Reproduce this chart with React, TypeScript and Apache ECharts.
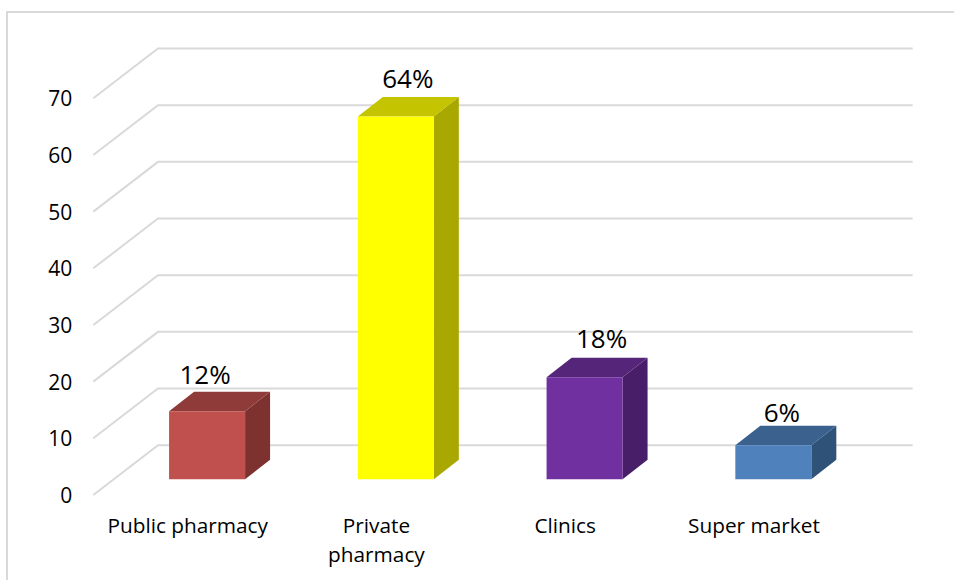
import React, { useEffect, useRef } from "react";
import * as echarts from "echarts";

const categories = ["Public pharmacy", "Private\npharmacy", "Clinics", "Super market"];
const shares = [12, 64, 18, 6];
const faceColors = ["#C0504D", "#FFFF00", "#7030A0", "#4F81BD"];
const topColors = ["#8F3B39", "#C4C400", "#552579", "#3B618E"];
const sideColors = ["#7D3230", "#A8A800", "#471E67", "#2F5278"];
const axisTicks = [0, 10, 20, 30, 40, 50, 60, 70];

// Layout of the pseudo-3D box, in pixels
const FONT = "'Open Sans', sans-serif";
const FRONT_LEFT = 93.3;
const FRONT_TOP = 98.3;
const PLOT_W = 755;
const PLOT_H = 396.7;
const WALL_DX = 64.7;
const WALL_DY = -49.8;
const BAR_W = 76;
const BAR_DX = 25;
const BAR_DY = -19.5;
const BAR_PLANE_DX = 19.4;
const BAR_PLANE_DY = -15.7;
const labelNudgeX = [-14.5, -0.5, 4.5, -4];
const labelNudgeY = [-4, -5, -6, 0];

export default function App() {
  const ref = useRef<HTMLDivElement>(null);

  useEffect(() => {
    const chart = echarts.init(ref.current!, undefined, { renderer: "svg" });

    const wallLines = (params: any, api: any) => {
      const p = api.coord([0, api.value(0)]);
      const x0 = FRONT_LEFT;
      return {
        type: "polyline",
        silent: true,
        shape: {
          points: [
            [x0, p[1]],
            [x0 + WALL_DX, p[1] + WALL_DY],
            [x0 + WALL_DX + PLOT_W - 0.3, p[1] + WALL_DY],
          ],
        },
        style: { stroke: "#D9D9D9", lineWidth: 2, fill: "none" },
      };
    };

    const box = (params: any, api: any) => {
      const i = api.value(0);
      const v = api.value(1);
      const top = api.coord([i, v]);
      const base = api.coord([i, 0]);
      const xl = top[0] - BAR_W / 2 + BAR_PLANE_DX;
      const xr = xl + BAR_W;
      const yt = top[1] + BAR_PLANE_DY;
      const yb = base[1] + BAR_PLANE_DY;
      return {
        type: "group",
        children: [
          {
            type: "polygon",
            shape: { points: [[xr, yt], [xr + BAR_DX, yt + BAR_DY], [xr + BAR_DX, yb + BAR_DY], [xr, yb]] },
            style: { fill: sideColors[i] },
          },
          {
            type: "polygon",
            shape: { points: [[xl, yt], [xl + BAR_DX, yt + BAR_DY], [xr + BAR_DX, yt + BAR_DY], [xr, yt]] },
            style: { fill: topColors[i] },
          },
          { type: "rect", shape: { x: xl, y: yt, width: BAR_W, height: yb - yt }, style: { fill: faceColors[i] } },
          {
            type: "text",
            x: (xl + xr) / 2 + BAR_DX / 2 + labelNudgeX[i],
            y: yt + BAR_DY - 1 + labelNudgeY[i],
            style: {
              text: `${v}%`,
              fill: "#000000",
              font: `26px ${FONT}`,
              align: "center",
              verticalAlign: "bottom",
            },
          },
        ],
      };
    };

    chart.setOption({
      animation: false,
      backgroundColor: "#FFFFFF",
      graphic: [
        {
          type: "polyline",
          silent: true,
          shape: { points: [[7, 580], [7, 12], [954, 12]] },
          style: { stroke: "#D9D9D9", lineWidth: 2, fill: "none" },
        },
      ],
      grid: { left: FRONT_LEFT, top: FRONT_TOP, width: PLOT_W, height: PLOT_H },
      xAxis: {
        type: "category",
        data: categories,
        axisLine: { show: false },
        axisTick: { show: false },
        axisLabel: {
          interval: 0,
          margin: 15,
          color: "#000000",
          fontFamily: FONT,
          fontSize: 20.8,
          lineHeight: 29,
        },
      },
      yAxis: {
        type: "value",
        min: 0,
        max: 70,
        interval: 10,
        splitLine: { show: false },
        axisLine: { show: false },
        axisTick: { show: false },
        axisLabel: { margin: 21, color: "#000000", fontFamily: FONT, fontSize: 21 },
      },
      series: [
        {
          type: "custom",
          renderItem: wallLines,
          data: axisTicks.map((t) => [t]),
          encode: { y: 0 },
          coordinateSystem: "cartesian2d",
          silent: true,
          z: 1,
        },
        {
          type: "custom",
          renderItem: box,
          data: shares.map((v, i) => [i, v]),
          encode: { x: 0, y: 1 },
          coordinateSystem: "cartesian2d",
          silent: true,
          z: 2,
        },
      ],
    });

    return () => chart.dispose();
  }, []);

  return <div ref={ref} style={{ position: "fixed", left: 0, top: 0, width: 954, height: 580 }} />;
}
